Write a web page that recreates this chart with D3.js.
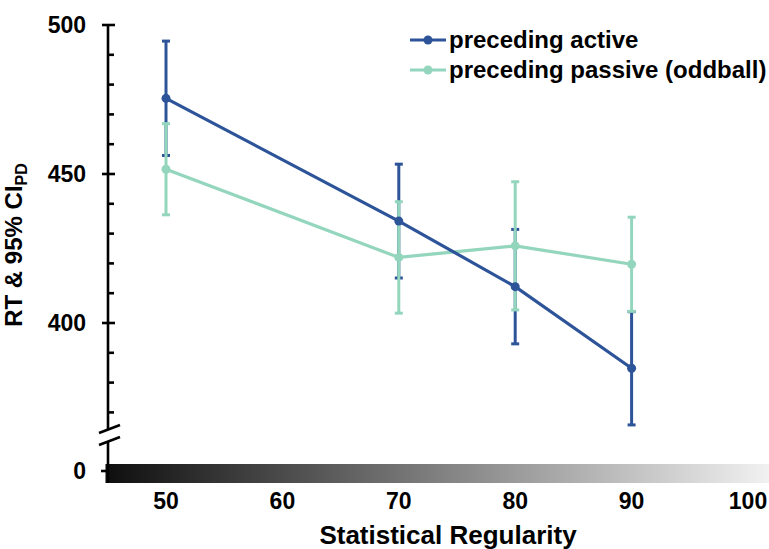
<!DOCTYPE html>
<html lang="en">
<head>
    <meta charset="UTF-8">
    <title>RT by statistical regularity</title>
    <script src="https://cdn.jsdelivr.net/npm/d3@7"></script>
    <style>
        body { margin: 0; background: #fff; }
        text { font-family: "Liberation Sans", Arial, sans-serif; font-weight: bold; fill: #000; }
    </style>
</head>
<body>
<svg width="769" height="549"></svg>
<script>
    // data
    const regularity = [50, 70, 80, 90]
    const activeRT = [475.4, 434.2, 412.2, 384.8]
    const activeCI = [19.2, 19.1, 19.2, 19.0]
    const passiveRT = [451.6, 422.0, 425.9, 419.7]
    const passiveCI = [15.3, 18.7, 21.5, 15.8]
    const xTicks = [50, 60, 70, 80, 90, 100]
    const yMajor = [400, 450, 500]
    const yMinor = [370, 380, 390, 410, 420, 430, 440, 460, 470, 480, 490]
    const seriesNames = ["preceding active", "preceding passive (oddball)"]
    const seriesColors = ["#2d5499", "#93d6bd"]

    const svg = d3.select("svg")
    const axisX = 108

    const x = d3.scaleLinear().domain([50, 100]).range([166, 748])
    const y = d3.scaleLinear().domain([400, 500]).range([323, 25])
    const zeroY = 471

    // gradient strip along the bottom
    const grad = svg.append("defs").append("linearGradient")
        .attr("id", "reg").attr("x1", "0%").attr("x2", "100%")
    grad.append("stop").attr("offset", "0%").attr("stop-color", "#0e0e0e")
    grad.append("stop").attr("offset", "100%").attr("stop-color", "#f2f2f2")
    svg.append("rect")
        .attr("x", x(44.8)).attr("y", 464)
        .attr("width", x(102) - x(44.8)).attr("height", 19)
        .attr("fill", "url(#reg)")

    // y axis
    const yAxis = svg.append("g").attr("stroke", "#000").attr("stroke-width", 2.6)
    yAxis.append("line").attr("x1", axisX).attr("x2", axisX).attr("y1", y(500) - 1).attr("y2", 483)
    yAxis.selectAll(".major").data(yMajor).join("line")
        .attr("x1", axisX - 6).attr("x2", axisX + 7)
        .attr("y1", d => y(d)).attr("y2", d => y(d))
    yAxis.selectAll(".minor").data(yMinor).join("line")
        .attr("x1", axisX).attr("x2", axisX + 6)
        .attr("y1", d => y(d)).attr("y2", d => y(d))
    yAxis.append("line").attr("x1", axisX - 7).attr("x2", axisX).attr("y1", zeroY).attr("y2", zeroY)

    // axis break
    svg.append("path")
        .attr("d", `M${axisX - 9},${433} L${axisX + 12},${425} L${axisX + 12},${437} L${axisX - 9},${445} Z`)
        .attr("fill", "#fff")
    svg.append("g").attr("stroke", "#000").attr("stroke-width", 2.6)
        .selectAll("line").data([433, 445]).join("line")
        .attr("x1", axisX - 9).attr("x2", axisX + 12)
        .attr("y1", d => d).attr("y2", d => d - 8)

    svg.selectAll(".ylab").data(yMajor).join("text")
        .attr("x", axisX - 22).attr("y", d => y(d) + 8)
        .attr("text-anchor", "end").attr("font-size", 23)
        .text(d => d)
    svg.append("text").attr("x", axisX - 22).attr("y", zeroY + 8)
        .attr("text-anchor", "end").attr("font-size", 23).text("0")

    svg.selectAll(".xlab").data(xTicks).join("text")
        .attr("x", d => x(d)).attr("y", 509)
        .attr("text-anchor", "middle").attr("font-size", 23)
        .text(d => d)

    svg.append("text").attr("x", 448).attr("y", 544)
        .attr("text-anchor", "middle").attr("font-size", 26)
        .text("Statistical Regularity")

    const yt = svg.append("text")
        .attr("transform", "translate(22,245) rotate(-90)")
        .attr("text-anchor", "middle").attr("font-size", 24)
    yt.append("tspan").text("RT & 95% CI")
    yt.append("tspan").attr("font-size", 16).attr("dy", 5).text("PD")

    // series
    const series = [
        { name: seriesNames[0], rt: activeRT, ci: activeCI, color: seriesColors[0] },
        { name: seriesNames[1], rt: passiveRT, ci: passiveCI, color: seriesColors[1] }
    ]
    const line = d3.line().x(d => x(d.x)).y(d => y(d.y))

    series.forEach(s => {
        const g = svg.append("g").attr("stroke", s.color).attr("stroke-width", 3)
        regularity.forEach((r, i) => {
            const lo = y(s.rt[i] - s.ci[i]), hi = y(s.rt[i] + s.ci[i])
            g.append("line").attr("x1", x(r)).attr("x2", x(r)).attr("y1", lo).attr("y2", hi)
            g.append("line").attr("x1", x(r) - 4).attr("x2", x(r) + 4).attr("y1", lo).attr("y2", lo)
            g.append("line").attr("x1", x(r) - 4).attr("x2", x(r) + 4).attr("y1", hi).attr("y2", hi)
        })
    })
    series.slice().reverse().forEach(s => {
        const pts = regularity.map((r, i) => ({ x: r, y: s.rt[i] }))
        svg.append("path").datum(pts).attr("d", line)
            .attr("fill", "none").attr("stroke", s.color).attr("stroke-width", 3.2)
        svg.append("g").selectAll("circle").data(pts).join("circle")
            .attr("cx", d => x(d.x)).attr("cy", d => y(d.y)).attr("r", 4.5)
            .attr("fill", s.color)
    })

    // legend
    const legend = svg.append("g").selectAll("g").data(series).join("g")
        .attr("transform", (d, i) => `translate(410,${40 + i * 30})`)
    legend.append("line").attr("x1", 0).attr("x2", 36)
        .attr("stroke", d => d.color).attr("stroke-width", 3.2)
    legend.append("circle").attr("cx", 18).attr("r", 4.5).attr("fill", d => d.color)
    legend.append("text").attr("x", 39).attr("y", 8).attr("font-size", 24)
        .text(d => d.name)
</script>
</body>
</html>
